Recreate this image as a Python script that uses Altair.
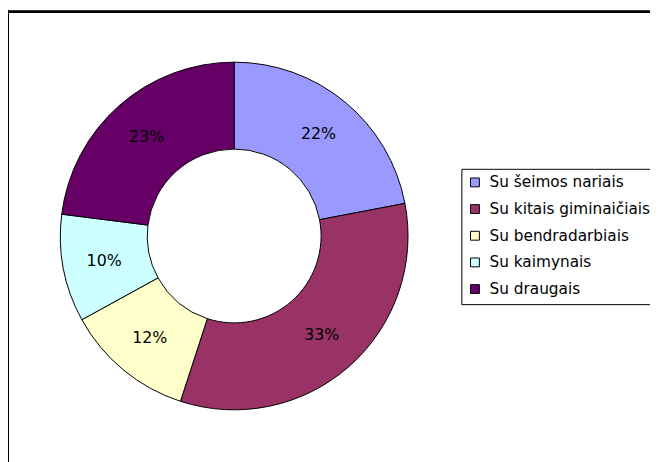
import altair as alt
import pandas as pd

categories = ["Su šeimos nariais", "Su kitais giminaičiais", "Su bendradarbiais", "Su kaimynais", "Su draugais"]
values = [22, 33, 12, 10, 23]
labels = ["22%", "33%", "12%", "10%", "23%"]
colors = ["#9999FF", "#993366", "#FFFFCC", "#CCFFFF", "#660066"]

df = pd.DataFrame({
    "cat": categories,
    "val": values,
    "lab": labels,
    "idx": list(range(len(categories))),
})

FONT = "DejaVu Sans"
CX, CY = 229, 228

base = alt.Chart(df).encode(
    theta=alt.Theta("val:Q", stack=True),
    order=alt.Order("idx:Q"),
)

arcs = base.mark_arc(outerRadius=176, innerRadius=88, stroke="black", strokeWidth=1).encode(
    x=alt.value(CX),
    y=alt.value(CY),
    color=alt.Color(
        "cat:N",
        scale=alt.Scale(domain=categories, range=colors),
        sort=categories,
        legend=alt.Legend(
            title=None,
            orient="none",
            legendX=459,
            legendY=160,
            symbolType="square",
            symbolSize=81,
            symbolStrokeColor="black",
            symbolStrokeWidth=1,
            symbolOpacity=1,
            labelFont=FONT,
            labelFontSize=15.5,
            labelColor="black",
            labelLimit=400,
            labelOffset=7,
            rowPadding=10,
            padding=6,
            strokeColor="black",
            fillColor="white",
        ),
    ),
)

text = base.mark_text(radius=134, font=FONT, fontSize=16, color="black").encode(
    x=alt.value(CX),
    y=alt.value(CY),
    text="lab:N",
)

frame_top = alt.Chart(df).mark_rule(color="black", strokeWidth=2).encode(
    x=alt.value(0), x2=alt.value(660), y=alt.value(1)
)
frame_left = alt.Chart(df).mark_rule(color="black", strokeWidth=2).encode(
    x=alt.value(0), y=alt.value(0), y2=alt.value(460)
)

chart = alt.layer(arcs, text, frame_top, frame_left).properties(
    width=650,
    height=454,
    autosize=alt.AutoSizeParams(type="none"),
    padding=0,
    background="white",
).configure_view(stroke=None)

chart.save("out.html", embed_options={"renderer": "svg", "actions": False})
